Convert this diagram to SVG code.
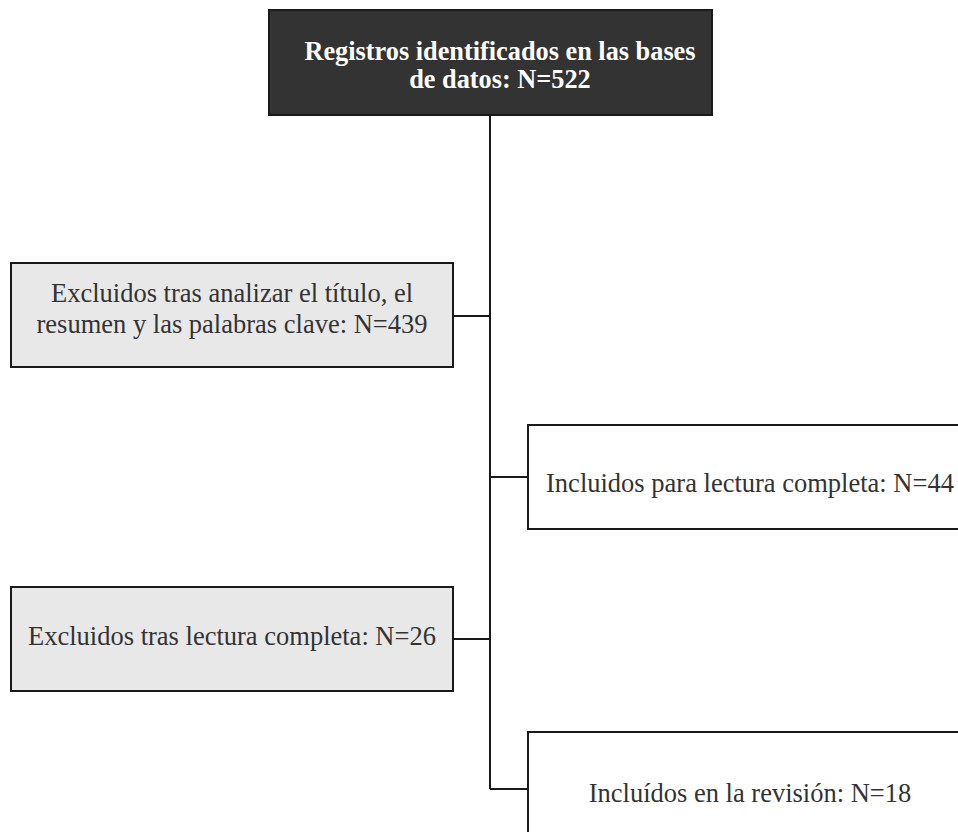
<svg xmlns="http://www.w3.org/2000/svg" width="958" height="832" viewBox="0 0 958 832">
<style>
.box{stroke:#1a1a1a;stroke-width:2}
.dark{fill:#333333}
.grey{fill:#e8e8e8}
.white{fill:#ffffff}
.t{font-family:"Liberation Serif","Times New Roman",serif;font-size:26.5px;fill:#333333;text-anchor:middle}
.tb{font-family:"Liberation Serif","Times New Roman",serif;font-size:26.3px;font-weight:bold;fill:#ffffff;text-anchor:middle}
.c{stroke:#1a1a1a;stroke-width:2;fill:none}
</style>
<rect width="958" height="832" fill="#ffffff"/>
<g id="connectors">
<line class="c" x1="490" y1="115" x2="490" y2="789"/>
<line class="c" x1="453" y1="316" x2="490" y2="316"/>
<line class="c" x1="490" y1="477" x2="528" y2="477"/>
<line class="c" x1="453" y1="639" x2="490" y2="639"/>
<line class="c" x1="490" y1="789" x2="528" y2="789"/>
</g>
<g id="n1">
<rect class="box dark" x="269" y="10" width="443" height="105"/>
<text class="tb" x="500" y="60">Registros identificados en las bases</text>
<text class="tb" x="500" y="88">de datos: N=522</text>
</g>
<g id="n2">
<rect class="box grey" x="11" y="263" width="442" height="104"/>
<text class="t" x="232" y="302">Excluidos tras analizar el título, el</text>
<text class="t" x="232" y="333">resumen y las palabras clave: N=439</text>
</g>
<g id="n3">
<rect class="box white" x="528" y="425" width="444" height="104"/>
<text class="t" x="750" y="492">Incluidos para lectura completa: N=44</text>
</g>
<g id="n4">
<rect class="box grey" x="11" y="587" width="442" height="104"/>
<text class="t" x="232" y="645">Excluidos tras lectura completa: N=26</text>
</g>
<g id="n5">
<rect class="box white" x="528" y="732" width="444" height="110"/>
<text class="t" x="750" y="802">Incluídos en la revisión: N=18</text>
</g>
</svg>
